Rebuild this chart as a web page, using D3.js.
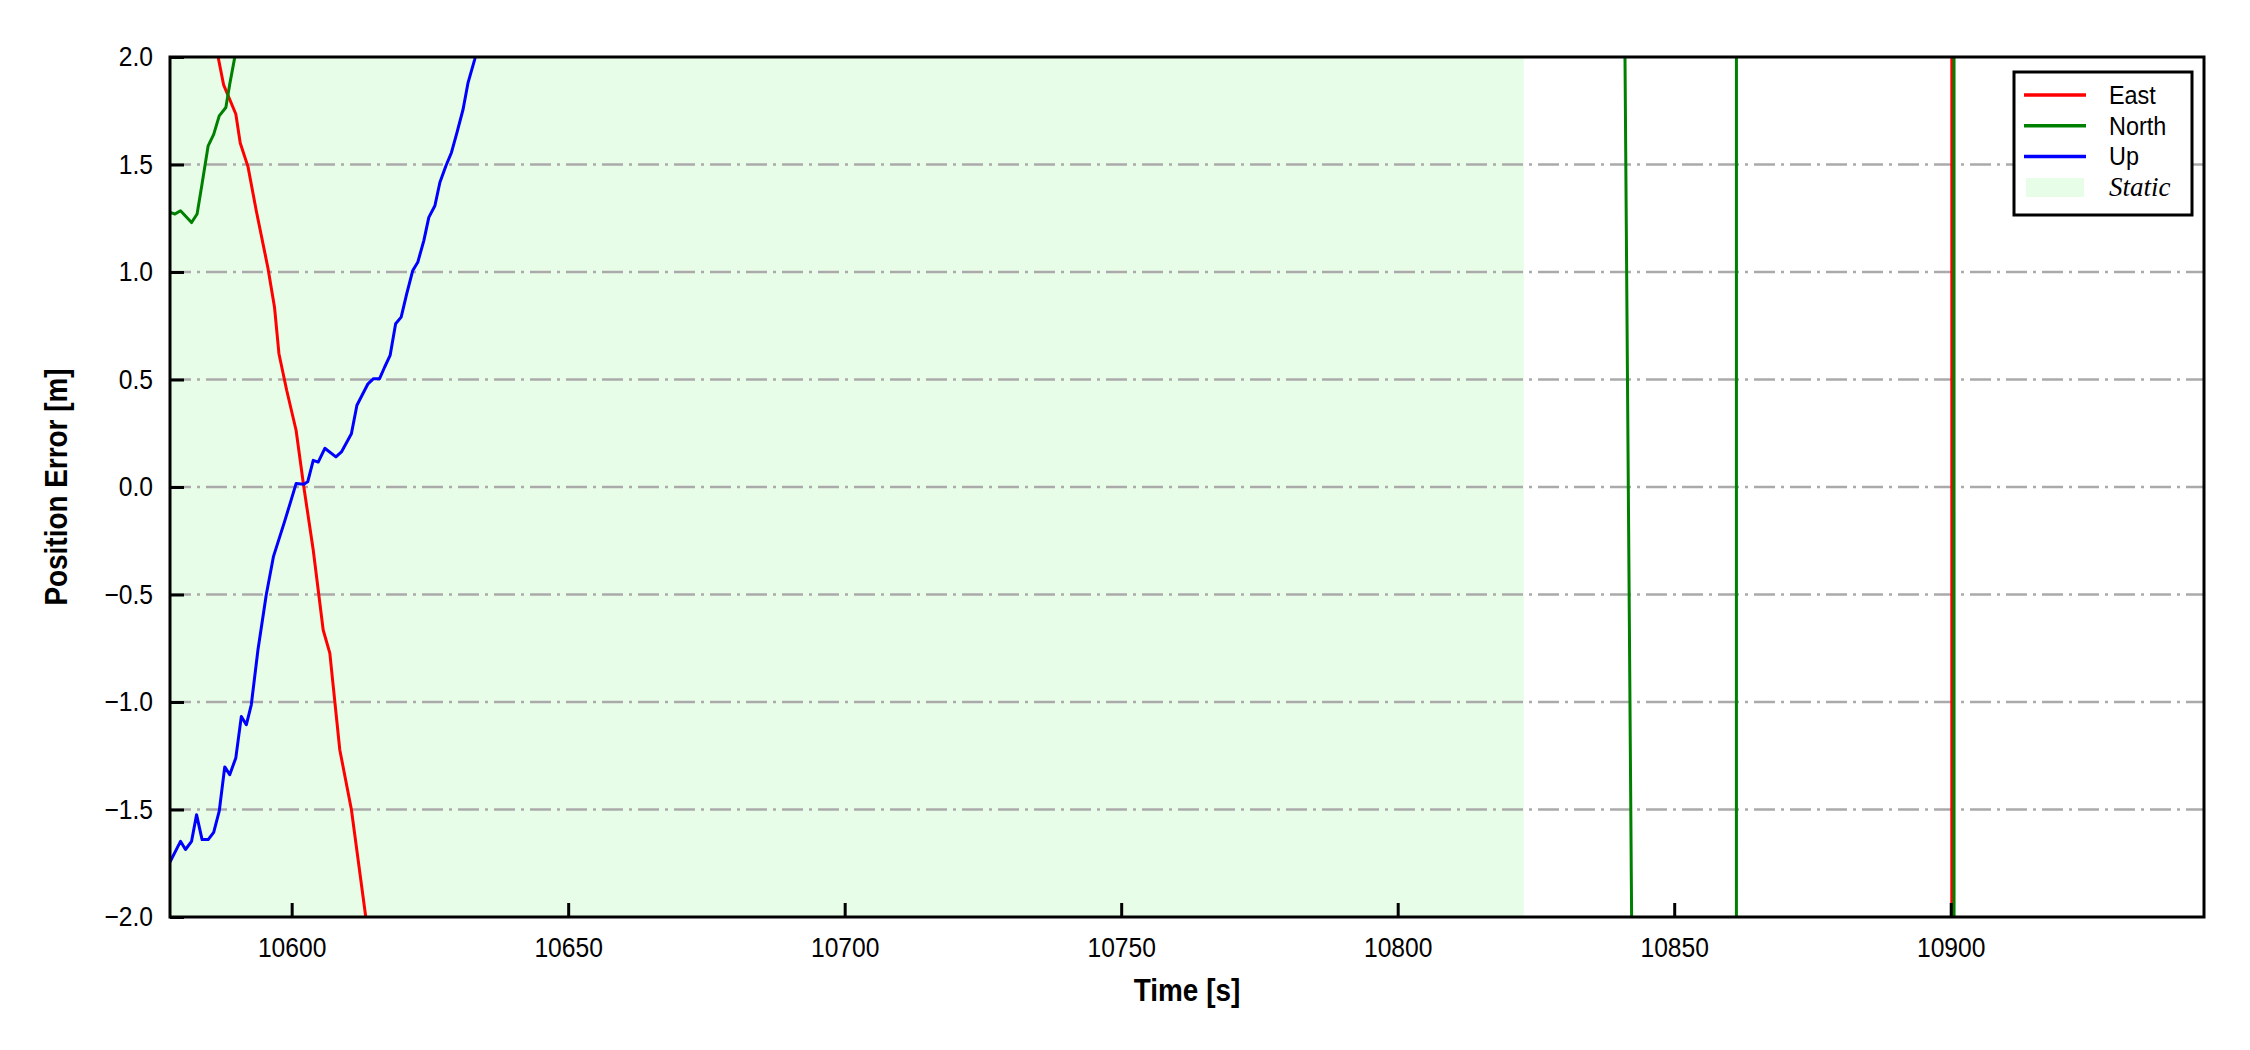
<!DOCTYPE html>
<html>
<head>
<meta charset="utf-8">
<script src="https://cdn.jsdelivr.net/npm/d3@7"></script>
<style>
  body { margin: 0; background: #fff; }
  svg { display: block; }
</style>
</head>
<body>
<svg id="chart" width="2250" height="1050"></svg>
<script>
// axis ranges and ticks
var xDomain = [10578.0, 10945.8];
var yDomain = [-2, 2];
var xTicks = [10600, 10650, 10700, 10750, 10800, 10850, 10900];
var yTicks = [-2, -1.5, -1, -0.5, 0, 0.5, 1, 1.5, 2];
var staticSpan = [10578.0, 10822.8];

var seriesNames = ["East", "North", "Up"];
var seriesColors = ["#ff0000", "#008000", "#0000ff"];

// [time s, error m]
var east = [
    [10578.0, 2.98], [10580.0, 2.72], [10582.0, 2.50], [10584.0, 2.30], [10585.8, 2.10],
    [10586.7, 2.00], [10587.7, 1.87], [10589.9, 1.735], [10590.7, 1.60], [10592.1, 1.49],
    [10593.6, 1.285], [10595.7, 1.02], [10596.9, 0.836], [10597.7, 0.62], [10599.1, 0.45],
    [10600.8, 0.264], [10602.2, 0.0], [10603.9, -0.293], [10605.7, -0.665], [10606.9, -0.773],
    [10608.7, -1.222], [10610.8, -1.50], [10613.4, -2.0], [10615.0, -2.35], [10620.0, -3.3],
    [10650.0, -8.5], [10700.0, -19], [10750.0, -33], [10800.0, -52], [10850.0, -78],
    [10900.1, -110], [10900.3, 115], [10945.8, 150]
];
var north = [
    [10578.0, 1.277], [10578.9, 1.27], [10579.9, 1.285], [10581.9, 1.23], [10582.9, 1.27],
    [10583.8, 1.41], [10584.9, 1.587], [10585.9, 1.64], [10586.9, 1.726], [10588.1, 1.765],
    [10588.8, 1.873], [10589.7, 1.997], [10590.6, 2.15], [10592.0, 2.45], [10600.0, 4.2],
    [10650.0, 14], [10700.0, 27], [10750.0, 39], [10800.0, 52], [10830.0, 38],
    [10840.8, 3.0], [10842.6, -3.0], [10855.0, -42], [10861.2, -63], [10861.3, 64],
    [10880.0, 82], [10900.5, 101], [10900.7, -98], [10945.8, -135]
];
var up = [
    [10578.0, -1.745], [10579.9, -1.648], [10580.8, -1.686], [10581.9, -1.648], [10582.8, -1.524],
    [10583.8, -1.64], [10584.9, -1.64], [10585.9, -1.606], [10586.9, -1.508], [10587.9, -1.302],
    [10588.8, -1.338], [10589.9, -1.26], [10590.9, -1.067], [10591.8, -1.106], [10592.7, -1.013],
    [10593.9, -0.758], [10595.4, -0.502], [10596.7, -0.324], [10598.7, -0.162], [10599.9, -0.061],
    [10600.8, 0.016], [10602.2, 0.013], [10602.9, 0.024], [10603.9, 0.124], [10604.8, 0.116],
    [10606.0, 0.18], [10608.0, 0.14], [10609.0, 0.163], [10610.8, 0.248], [10611.8, 0.38],
    [10613.8, 0.48], [10614.8, 0.504], [10615.9, 0.504], [10616.8, 0.557], [10617.8, 0.612],
    [10618.8, 0.759], [10619.8, 0.79], [10620.8, 0.898], [10621.9, 1.007], [10622.8, 1.045],
    [10623.9, 1.146], [10624.8, 1.254], [10625.9, 1.308], [10626.8, 1.416], [10627.9, 1.494],
    [10628.9, 1.556], [10629.9, 1.649], [10631.0, 1.757], [10631.9, 1.881], [10633.1, 1.989],
    [10634.0, 2.1], [10636.0, 2.4], [10650.0, 4.5], [10700.0, 12], [10800.0, 25],
    [10900.0, 40], [10945.8, 48]
];

var margin = { left: 170, right: 46, top: 57, bottom: 133 };
var W = 2250, H = 1050;
var iw = W - margin.left - margin.right;
var ih = H - margin.top - margin.bottom;
var SX = 0.88; // text in the reference is slightly narrow
var sans = "'Liberation Sans', Arial, sans-serif";

var svg = d3.select("#chart");
var g = svg.append("g").attr("transform", `translate(${margin.left},${margin.top})`);

var x = d3.scaleLinear().domain(xDomain).range([0, iw]);
var y = d3.scaleLinear().domain(yDomain).range([ih, 0]);

g.append("clipPath").attr("id", "clip")
    .append("rect").attr("width", iw).attr("height", ih);

// static period
g.append("rect")
    .attr("x", x(staticSpan[0]))
    .attr("y", 0)
    .attr("width", x(staticSpan[1]) - x(staticSpan[0]))
    .attr("height", ih)
    .attr("fill", "#e8fde8");

// horizontal grid
g.append("g").selectAll("line")
    .data(yTicks.filter(d => d > yDomain[0] && d < yDomain[1]))
    .enter().append("line")
    .attr("x1", 0).attr("x2", iw)
    .attr("y1", d => y(d)).attr("y2", d => y(d))
    .attr("stroke", "#aaaaaa")
    .attr("stroke-width", 2.5)
    .attr("stroke-dasharray", "21,6,3,6");

var line = d3.line().x(d => x(d[0])).y(d => y(d[1]));
var lines = g.append("g").attr("clip-path", "url(#clip)");
[east, north, up].forEach(function (s, i) {
    lines.append("path")
        .datum(s)
        .attr("d", line)
        .attr("fill", "none")
        .attr("stroke", seriesColors[i])
        .attr("stroke-width", 3)
        .attr("stroke-linejoin", "round");
});

// axes, ticks pointing inward
var xAxis = d3.axisBottom(x).tickValues(xTicks).tickFormat(d3.format("d"))
    .tickSize(-14).tickSizeOuter(0).tickPadding(20);
var yAxis = d3.axisLeft(y).tickValues(yTicks).tickFormat(d3.format(".1f"))
    .tickSize(-14).tickSizeOuter(0).tickPadding(17);

var gx = g.append("g").attr("transform", `translate(0,${ih})`).call(xAxis);
var gy = g.append("g").call(yAxis);
[gx, gy].forEach(function (ax) {
    ax.select(".domain").remove();
    ax.selectAll(".tick line").attr("stroke", "#000").attr("stroke-width", 3);
    ax.selectAll(".tick text")
        .attr("fill", "#000")
        .style("font-family", sans)
        .style("font-size", "28px")
        .attr("transform", `scale(${SX},1)`);
});
gy.selectAll(".tick text").attr("x", -17 / SX);

// frame
g.append("rect")
    .attr("width", iw).attr("height", ih)
    .attr("fill", "none").attr("stroke", "#000").attr("stroke-width", 3);

// axis labels
svg.append("text")
    .attr("transform", `translate(${margin.left + iw / 2},1001) scale(0.9,1)`)
    .attr("text-anchor", "middle")
    .style("font-family", sans).style("font-weight", "bold").style("font-size", "31px")
    .text("Time [s]");
svg.append("text")
    .attr("transform", `translate(67,${margin.top + ih / 2}) rotate(-90) scale(0.9,1)`)
    .attr("text-anchor", "middle")
    .style("font-family", sans).style("font-weight", "bold").style("font-size", "31px")
    .text("Position Error [m]");

// legend
var lg = svg.append("g").attr("transform", "translate(2014,72)");
lg.append("rect")
    .attr("width", 178).attr("height", 143)
    .attr("fill", "#fff").attr("stroke", "#000").attr("stroke-width", 3);
seriesNames.forEach(function (name, i) {
    var ly = 23 + i * 30.7;
    lg.append("line")
        .attr("x1", 10).attr("x2", 72).attr("y1", ly).attr("y2", ly)
        .attr("stroke", seriesColors[i]).attr("stroke-width", 3.5);
    lg.append("text")
        .attr("transform", `translate(95,${ly + 9}) scale(0.9,1)`)
        .style("font-family", sans).style("font-size", "26px")
        .text(name);
});
lg.append("rect")
    .attr("x", 12).attr("y", 106).attr("width", 58).attr("height", 19)
    .attr("fill", "#e8fde8");
lg.append("text")
    .attr("x", 95).attr("y", 124)
    .style("font-family", "'Liberation Serif', 'Times New Roman', serif")
    .style("font-style", "italic").style("font-size", "27px")
    .text("Static");
</script>
</body>
</html>
